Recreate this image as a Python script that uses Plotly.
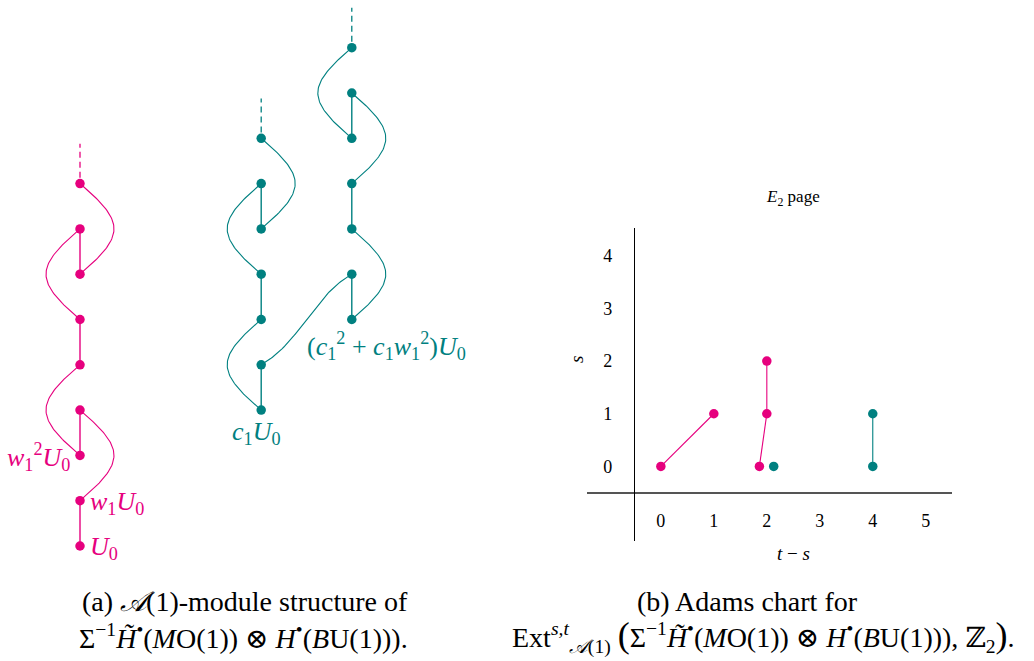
import numpy as np
import plotly.graph_objects as go

PINK = "#E6007E"
TEAL = "#008080"
FONT = "'Liberation Serif', 'Times New Roman', 'DejaVu Serif', serif"
W, H = 1034, 661

# ---------------- (a) A(1)-module diagram data ----------------
# column position, degrees of the classes, Sq1 pairs (straight), Sq2 pairs (curved, side)
pink_column = 0
pink_degrees = [0, 1, 2, 3, 4, 5, 6, 7, 8]
pink_sq1 = [(0, 1), (2, 3), (4, 5), (6, 7)]
pink_sq2 = [(1, 3, 1), (2, 4, -1), (5, 7, -1), (6, 8, 1)]
pink_labels = {0: ("<i>U</i><sub>0</sub>", "right"),
               1: ("<i>w</i><sub>1</sub><i>U</i><sub>0</sub>", "right"),
               2: ("<i>w</i><sub>1</sub><sup>2</sup><i>U</i><sub>0</sub>", "left")}

teal_a_column = 4
teal_a_degrees = [3, 4, 5, 6, 7, 8, 9]
teal_a_sq1 = [(3, 4), (5, 6), (7, 8)]
teal_a_sq2 = [(3, 5, -1), (6, 8, -1), (7, 9, 1)]

teal_b_column = 6
teal_b_degrees = [5, 6, 7, 8, 9, 10, 11]
teal_b_sq1 = [(5, 6), (7, 8), (9, 10)]
teal_b_sq2 = [(5, 7, 1), (8, 10, 1), (9, 11, -1)]

# Sq2 joining the two teal columns: (column, degree) -> (column, degree)
teal_cross_sq2 = [((teal_a_column, 4), (teal_b_column, 6))]

teal_a_label = "<i>c</i><sub>1</sub><i>U</i><sub>0</sub>"
teal_b_label = "(<i>c</i><sub>1</sub><sup>2</sup> + <i>c</i><sub>1</sub><i>w</i><sub>1</sub><sup>2</sup>)<i>U</i><sub>0</sub>"

# ---------------- (b) Adams chart data ----------------
adams_pink_ts = [0, 1, 1.86, 2, 2]
adams_pink_s = [0, 1, 0, 1, 2]
adams_pink_h = [(0, 1), (2, 3), (3, 4)]
adams_teal_ts = [2.13, 4, 4]
adams_teal_s = [0, 0, 1]
adams_teal_h = [(1, 2)]
x_ticks = [0, 1, 2, 3, 4, 5]
y_ticks = [0, 1, 2, 3, 4]


def bezier(p0, p1, p2, p3, n=60):
    t = np.linspace(0, 1, n)[:, None]
    p0, p1, p2, p3 = map(np.array, (p0, p1, p2, p3))
    pts = (1 - t) ** 3 * p0 + 3 * (1 - t) ** 2 * t * p1 + 3 * (1 - t) * t ** 2 * p2 + t ** 3 * p3
    return pts[:, 0], pts[:, 1]


fig = go.Figure()


def add_module(col, degrees, sq1, sq2, color):
    xs, ys = [], []
    for a, b in sq1:
        xs += [col, col, None]
        ys += [a, b, None]
    fig.add_trace(go.Scatter(x=xs, y=ys, mode="lines", line=dict(color=color, width=1.4),
                             hoverinfo="skip", showlegend=False, xaxis="x", yaxis="y"))
    cx, cy = [], []
    for a, b, side in sq2:
        bx, by = bezier((col, a), (col + side * 1.0, a + 0.85), (col + side * 1.0, b - 0.85), (col, b))
        cx += list(bx) + [None]
        cy += list(by) + [None]
    fig.add_trace(go.Scatter(x=cx, y=cy, mode="lines", line=dict(color=color, width=1.1),
                             hoverinfo="skip", showlegend=False, xaxis="x", yaxis="y"))
    top = max(degrees)
    fig.add_trace(go.Scatter(x=[col, col], y=[top + 0.13, top + 0.88], mode="lines",
                             line=dict(color=color, width=1.3, dash="6px,4px"),
                             hoverinfo="skip", showlegend=False, xaxis="x", yaxis="y"))
    fig.add_trace(go.Scatter(x=[col] * len(degrees), y=degrees, mode="markers",
                             marker=dict(color=color, size=9.5),
                             hoverinfo="skip", showlegend=False, xaxis="x", yaxis="y"))


add_module(pink_column, pink_degrees, pink_sq1, pink_sq2, PINK)
add_module(teal_a_column, teal_a_degrees, teal_a_sq1, teal_a_sq2, TEAL)
add_module(teal_b_column, teal_b_degrees, teal_b_sq1, teal_b_sq2, TEAL)

for (c0, d0), (c1, d1) in teal_cross_sq2:
    bx, by = bezier((c0, d0), (c0 + 0.87, d0 + 0.5), (c1 - 0.87, d1 - 0.5), (c1, d1))
    fig.add_trace(go.Scatter(x=bx, y=by, mode="lines", line=dict(color=TEAL, width=1.1),
                             hoverinfo="skip", showlegend=False, xaxis="x", yaxis="y"))

LABEL_SIZE = 26
annotations = []
for deg, (txt, side) in pink_labels.items():
    annotations.append(dict(x=pink_column, y=deg, xref="x", yref="y", text=txt, showarrow=False,
                            xanchor="left" if side == "right" else "right",
                            xshift=8 if side == "right" else -8, yshift=-2,
                            font=dict(family=FONT, size=LABEL_SIZE, color=PINK)))
annotations.append(dict(x=teal_a_column, y=min(teal_a_degrees), xref="x", yref="y", text=teal_a_label,
                        showarrow=False, xanchor="center", yanchor="middle", xshift=-5, yshift=-23,
                        font=dict(family=FONT, size=LABEL_SIZE, color=TEAL)))
annotations.append(dict(x=teal_b_column, y=min(teal_b_degrees), xref="x", yref="y", text=teal_b_label,
                        showarrow=False, xanchor="center", yanchor="middle", xshift=35, yshift=-27,
                        font=dict(family=FONT, size=LABEL_SIZE, color=TEAL)))

# ---------------- Adams chart traces ----------------
def add_adams(ts, s, h, color):
    xs, ys = [], []
    for a, b in h:
        xs += [ts[a], ts[b], None]
        ys += [s[a], s[b], None]
    fig.add_trace(go.Scatter(x=xs, y=ys, mode="lines", line=dict(color=color, width=1.1),
                             hoverinfo="skip", showlegend=False, xaxis="x2", yaxis="y2"))
    fig.add_trace(go.Scatter(x=ts, y=s, mode="markers", marker=dict(color=color, size=9.5),
                             hoverinfo="skip", showlegend=False, xaxis="x2", yaxis="y2",
                             cliponaxis=False))


add_adams(adams_pink_ts, adams_pink_s, adams_pink_h, PINK)
add_adams(adams_teal_ts, adams_teal_s, adams_teal_h, TEAL)


def px(xp, yp):
    return xp / W, 1 - yp / H


annotations += [
    dict(x=px(793, 198)[0], y=px(793, 198)[1], xref="paper", yref="paper", xanchor="center",
         yanchor="middle", text="<i>E</i><sub>2</sub> page", showarrow=False,
         font=dict(family=FONT, size=17, color="black")),
    dict(x=px(793, 553)[0], y=px(793, 553)[1], xref="paper", yref="paper", xanchor="center",
         yanchor="middle", text="<i>t</i> − <i>s</i>", showarrow=False,
         font=dict(family=FONT, size=19, color="black")),
    dict(x=px(576, 360)[0], y=px(576, 360)[1], xref="paper", yref="paper", xanchor="center",
         yanchor="middle", text="<i>s</i>", showarrow=False, textangle=-90,
         font=dict(family=FONT, size=19, color="black")),
]

# ---------------- captions ----------------
cap_font = dict(family=FONT, size=28, color="black")
big = "<span style='font-size:36px'>"
caps = [
    (245, 601, "(a) <i>𝒜</i>(1)-module structure of"),
    (243, 636, "Σ<sup>−1</sup><i>H̃</i><sup>•</sup>(<i>M</i>O(1)) ⊗ <i>H</i><sup>•</sup>(<i>B</i>U(1)))."),
    (747, 601, "(b) Adams chart for"),
    (763, 636, "Ext<sup><i>s,t</i></sup><sub><i>𝒜</i>(1)</sub> " + big + "(</span>Σ<sup>−1</sup><i>H̃</i><sup>•</sup>"
               "(<i>M</i>O(1)) ⊗ <i>H</i><sup>•</sup>(<i>B</i>U(1))), ℤ<sub>2</sub>" + big + ")</span>."),
]
for cx, cy, txt in caps:
    xp, yp = px(cx, cy)
    annotations.append(dict(x=xp, y=yp, xref="paper", yref="paper", xanchor="center", yanchor="middle",
                            showarrow=False, font=cap_font, text=txt))

fig.update_layout(
    width=W, height=H,
    margin=dict(l=0, r=0, t=0, b=0),
    paper_bgcolor="white", plot_bgcolor="rgba(0,0,0,0)",
    showlegend=False,
    font=dict(family=FONT),
    xaxis=dict(domain=[0, 0.5], range=[-1.766, 9.647], visible=False),
    yaxis=dict(domain=[0, 1], range=[-2.539, 12.053], visible=False),
    xaxis2=dict(domain=[586.7 / W, 951.7 / W], range=[-1.40, 5.49], anchor="free",
                position=1 - 492.7 / H, showline=True, linecolor="#555555", linewidth=1.6,
                showgrid=False, zeroline=False, tickvals=x_ticks, ticktext=[str(v) for v in x_ticks],
                ticks="outside", ticklen=12, tickcolor="rgba(0,0,0,0)",
                tickfont=dict(family=FONT, size=18, color="black")),
    yaxis2=dict(domain=[1 - 540.7 / H, 1 - 228.3 / H], range=[-1.41, 4.52], anchor="free",
                position=634 / W, showline=True, linecolor="black", linewidth=1.3,
                showgrid=False, zeroline=False, tickvals=y_ticks, ticktext=[str(v) for v in y_ticks],
                ticks="outside", ticklen=18, tickcolor="rgba(0,0,0,0)",
                tickfont=dict(family=FONT, size=18, color="black")),
    annotations=annotations,
)

fig.write_html("out.html", config={"displayModeBar": False},
               post_script="document.body.style.margin='0';document.body.style.overflow='hidden';")
